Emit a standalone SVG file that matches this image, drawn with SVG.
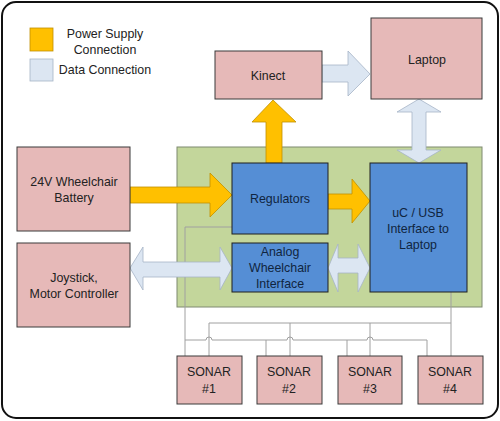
<svg xmlns="http://www.w3.org/2000/svg" width="500" height="421" viewBox="0 0 500 421">
<style>
text{font-family:"Liberation Sans",Arial,sans-serif;font-size:12.4px;fill:#222;text-anchor:middle}
.pink{fill:#e6b9b8;stroke:#3a3a3a;stroke-width:1}
.blue{fill:#558ed5;stroke:#1f1f1f;stroke-width:1}
.bt{fill:#10253f}
.pw{fill:#ffc000;stroke:#c09000;stroke-width:0.8}
.dt{fill:#dce6f2;stroke:#a6b4c6;stroke-width:0.8}
.wire{fill:none;stroke:#a0a0a0;stroke-width:1}
</style>
<rect x="2" y="2" width="496" height="416" rx="14" fill="#fff" stroke="#111" stroke-width="2"/>
<g id="legend">
<rect x="30" y="28" width="23" height="23" class="pw"/>
<rect x="30" y="59" width="23" height="22" class="dt"/>
<text x="105" y="38">Power Supply</text>
<text x="105" y="54">Connection</text>
<text x="105" y="74">Data Connection</text>
</g>
<g id="board"><rect x="177" y="147" width="305" height="160" fill="#c3d69b" stroke="#7f8a70" stroke-width="1"/></g>
<g id="connectors">
<path class="wire" d="M232,227 H185 V357"/>
<path class="wire" d="M451,292 V357"/>
<path class="wire" d="M209,357 V323 H451"/>
<path class="wire" d="M290,323 V357 M370,323 V357"/>
<path class="wire" d="M185,340 H206 a3,3 0 0 1 6,0 H287 a3,3 0 0 1 6,0 H367 a3,3 0 0 1 6,0 H427 V357"/>
<path class="wire" d="M266,340 V357 M347,340 V357"/>
<polygon class="dt" points="322,65 348,65 348,51 370,74 348,96 348,82 322,82"/>
<polygon class="dt" points="419,99 441,112 426,112 426,150 441,150 419,163 397,150 412,150 412,112 397,112"/>
<polygon class="pw" points="266,163 266,122 252,122 273,100 296,122 282,122 282,163"/>
<polygon class="pw" points="130,187 210,187 210,173 232,195 210,217 210,203 130,203"/>
<polygon class="pw" points="328,194 352,194 352,179 370,201 352,223 352,209 328,209"/>
<polygon class="dt" points="130,268 143,247 143,262 220,262 220,247 232,268 220,290 220,277 143,277 143,290"/>
<polygon class="dt" points="328,268 338,244 338,258 358,258 358,244 370,268 358,292 358,273 338,273 338,292"/>
</g>
<g id="kinect"><rect x="215" y="51" width="107" height="48" class="pink"/><text x="268" y="80">Kinect</text></g>
<g id="laptop"><rect x="371" y="18" width="111" height="81" class="pink"/><text x="427" y="64">Laptop</text></g>
<g id="battery"><rect x="17" y="147" width="113" height="84" class="pink"/><text x="74" y="186">24V Wheelchair</text><text x="74" y="202">Battery</text></g>
<g id="joystick"><rect x="17" y="243" width="113" height="84" class="pink"/><text x="74" y="282">Joystick,</text><text x="74" y="298">Motor Controller</text></g>
<g id="regulators"><rect x="232" y="163" width="96" height="71" class="blue"/><text class="bt" x="280" y="203">Regulators</text></g>
<g id="analog"><rect x="232" y="243" width="96" height="49" class="blue"/><text class="bt" x="280" y="256">Analog</text><text class="bt" x="280" y="272">Wheelchair</text><text class="bt" x="280" y="288">Interface</text></g>
<g id="uc"><rect x="370" y="163" width="97" height="129" class="blue"/><text class="bt" x="418" y="217">uC / USB</text><text class="bt" x="418" y="233">Interface to</text><text class="bt" x="418" y="249">Laptop</text></g>
<g id="sonar1"><rect x="177" y="356" width="65" height="48" class="pink"/><text x="209" y="376">SONAR</text><text x="209" y="393">#1</text></g>
<g id="sonar2"><rect x="257" y="356" width="65" height="48" class="pink"/><text x="289" y="376">SONAR</text><text x="289" y="393">#2</text></g>
<g id="sonar3"><rect x="338" y="356" width="64" height="48" class="pink"/><text x="370" y="376">SONAR</text><text x="370" y="393">#3</text></g>
<g id="sonar4"><rect x="418" y="356" width="65" height="48" class="pink"/><text x="450" y="376">SONAR</text><text x="450" y="393">#4</text></g>
</svg>
